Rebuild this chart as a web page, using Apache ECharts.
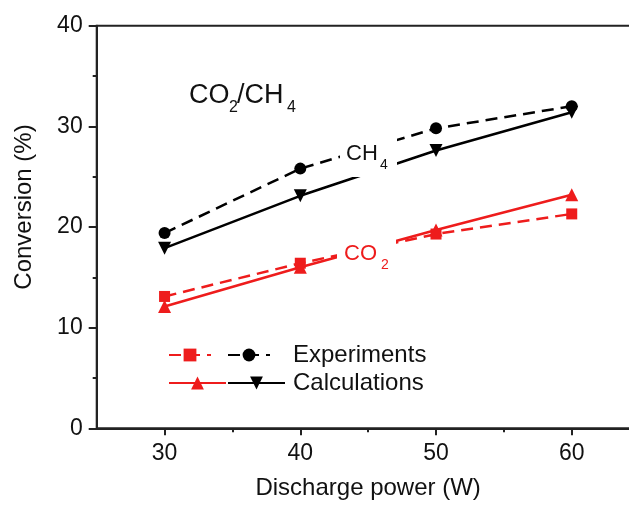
<!DOCTYPE html>
<html>
<head>
<meta charset="utf-8">
<script src="https://cdn.jsdelivr.net/npm/echarts@6/dist/echarts.min.js"></script>
<style>
  html, body { margin: 0; padding: 0; background: #fff; }
  #chart { width: 629px; height: 505px; }
</style>
</head>
<body>
<div id="chart"></div>
<script>
// Discharge power (W) and conversion (%) for the CO2/CH4 mixture
const power = [30, 40, 50, 60];
const co2Experiments = [13.1, 16.4, 19.3, 21.3];
const co2Calculations = [12.1, 16.0, 19.7, 23.2];
const ch4Experiments = [19.4, 25.8, 29.8, 32.0];
const ch4Calculations = [17.9, 23.1, 27.6, 31.4];

// Axis ticks
const xTickLabels = [30, 40, 50, 60];
const xMinorTicks = [35, 45, 55];
const yTickLabels = [0, 10, 20, 30, 40];

const FONT = "'Liberation Sans', Arial, Helvetica, sans-serif";
const RED = '#ee1c1c';
const BLACK = '#000000';
const AXIS = '#222222';
const DASH = [12, 7];

function toPoints(values) {
  return power.map((x, i) => [x, values[i]]);
}

function lineSeries(name, values, color, symbol, symbolSize, dashed, rotate) {
  return {
    name: name,
    type: 'line',
    data: toPoints(values),
    symbol: symbol,
    symbolSize: symbolSize,
    symbolRotate: rotate || 0,
    showSymbol: true,
    lineStyle: { color: color, width: 2.5, type: dashed ? DASH : 'solid' },
    itemStyle: { color: color },
    emphasis: { disabled: true },
    z: 3
  };
}

function label(x, y, text, size, color) {
  return {
    type: 'text', x: x, y: y, z: 101,
    style: {
      text: text, fontSize: size, fontFamily: FONT, fill: color,
      align: 'left', verticalAlign: 'middle',
      textAlign: 'left', textVerticalAlign: 'middle'
    }
  };
}

const chart = echarts.init(document.getElementById('chart'), null, { renderer: 'canvas' });

chart.setOption({
  animation: false,
  backgroundColor: '#ffffff',
  grid: {
    left: 96.7, top: 25.7, right: -10.6, bottom: 76.7,
    show: true, borderColor: AXIS, borderWidth: 2, backgroundColor: 'transparent',
    containLabel: false, outerBoundsMode: 'none'
  },
  xAxis: [
    {
      type: 'value', min: 25, max: 65, position: 'bottom',
      axisLine: { show: true, onZero: false, lineStyle: { color: AXIS, width: 2 } },
      axisTick: { show: true, customValues: xTickLabels, length: 7, lineStyle: { color: AXIS, width: 2 } },
      axisLabel: { show: true, customValues: xTickLabels, fontSize: 23, fontFamily: FONT, color: '#111', margin: 14 },
      splitLine: { show: false },
      name: 'Discharge power (W)', nameLocation: 'middle', nameGap: 48,
      nameTextStyle: { fontSize: 24, fontFamily: FONT, color: '#111' }
    },
    {
      type: 'value', min: 25, max: 65, position: 'bottom',
      axisLine: { show: false },
      axisTick: { show: true, customValues: xMinorTicks, length: 4, lineStyle: { color: AXIS, width: 2 } },
      axisLabel: { show: false },
      splitLine: { show: false }
    }
  ],
  yAxis: {
    type: 'value', min: yTickLabels[0], max: yTickLabels[yTickLabels.length - 1], interval: 10,
    axisLine: { show: true, onZero: false, lineStyle: { color: AXIS, width: 2 } },
    axisTick: { show: true, length: 8, lineStyle: { color: AXIS, width: 2 } },
    minorTick: { show: true, splitNumber: 2, length: 4, lineStyle: { color: AXIS, width: 2 } },
    axisLabel: { fontSize: 23, fontFamily: FONT, color: '#111', margin: 14 },
    splitLine: { show: false },
    minorSplitLine: { show: false }
  },
  legend: [
    {
      data: [
        { name: 'CO2 exp' },
        { name: 'CH4 exp', textStyle: { padding: [0, 0, 0, 18] } }
      ],
      left: 168, top: 343, padding: 0,
      itemWidth: 42, itemHeight: 16, itemGap: 15,
      selectedMode: false,
      formatter: n => (n === 'CH4 exp' ? 'Experiments' : ''),
      textStyle: { fontSize: 24, fontFamily: FONT, color: '#111' }
    },
    {
      data: [
        { name: 'CO2 calc' },
        { name: 'CH4 calc', textStyle: { padding: [0, 0, 0, 3] } }
      ],
      left: 168, top: 371, padding: 0,
      itemWidth: 57, itemHeight: 16, itemGap: 0,
      selectedMode: false,
      formatter: n => (n === 'CH4 calc' ? 'Calculations' : ''),
      textStyle: { fontSize: 24, fontFamily: FONT, color: '#111' }
    }
  ],
  series: [
    lineSeries('CO2 exp', co2Experiments, RED, 'rect', 11, true),
    lineSeries('CO2 calc', co2Calculations, RED, 'triangle', 13, false),
    lineSeries('CH4 exp', ch4Experiments, BLACK, 'circle', 12, true),
    lineSeries('CH4 calc', ch4Calculations, BLACK, 'triangle', 13, false, 180)
  ],
  graphic: {
    elements: [
      // axis title on the left
      {
        type: 'text', x: 24, y: 207, rotation: Math.PI / 2, z: 101,
        style: {
          text: 'Conversion (%)', fontSize: 24, fontFamily: FONT, fill: '#111',
          align: 'center', verticalAlign: 'middle', textAlign: 'center', textVerticalAlign: 'middle'
        }
      },
      // mixture title
      label(189, 96, 'CO', 27, '#111'),
      label(229, 107.5, '2', 16, '#111'),
      label(237, 96, '/CH', 27, '#111'),
      label(287, 107.5, '4', 16, '#111'),
      // CH4 tag with a white backing
      { type: 'rect', z: 100, shape: { x: 340, y: 136, width: 57, height: 41 }, style: { fill: '#ffffff' } },
      label(346, 154, 'CH', 22, '#111'),
      label(380, 165.5, '4', 14, '#111'),
      // CO2 tag with a white backing
      { type: 'rect', z: 100, shape: { x: 337, y: 239, width: 59, height: 37 }, style: { fill: '#ffffff' } },
      label(344, 253.5, 'CO', 22, RED),
      label(381, 265, '2', 14, RED)
    ]
  }
});
</script>
</body>
</html>
